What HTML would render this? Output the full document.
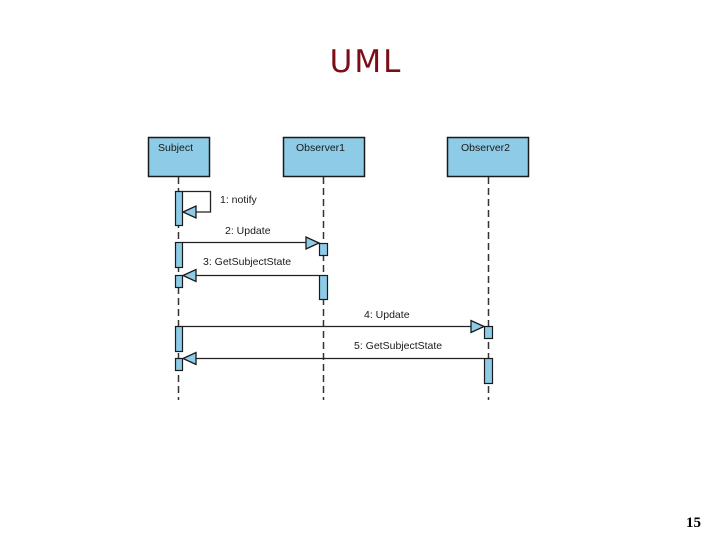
<!DOCTYPE html>
<html><head><meta charset="utf-8"><style>
html,body{margin:0;padding:0;background:#fff;}
body{width:720px;height:540px;position:relative;overflow:hidden;}
.t{position:absolute;left:0;width:732px;top:44px;text-align:center;font:31px "DejaVu Sans","Liberation Sans",sans-serif;color:#7a0d16;letter-spacing:2px;}
.n{position:absolute;left:686px;top:515px;font:bold 15px "Liberation Serif",serif;}
</style></head><body>
<div class="t">UML</div>
<svg width="720" height="540" style="position:absolute;left:0;top:0" font-family="Liberation Sans, sans-serif" font-size="10.5">
<g stroke="#1a1a1a" stroke-width="1.5" fill="#8ecbe6">
<rect x="148.5" y="137.5" width="61" height="39"/>
<rect x="283.5" y="137.5" width="81" height="39"/>
<rect x="447.5" y="137.5" width="81" height="39"/>
</g>
<g fill="#1a1a1a">
<text x="158" y="151">Subject</text>
<text x="296" y="151">Observer1</text>
<text x="461" y="151">Observer2</text>
</g>
<g stroke="#333" stroke-width="1.5" stroke-dasharray="7,4">
<line x1="178.5" y1="177" x2="178.5" y2="400"/>
<line x1="323.5" y1="177" x2="323.5" y2="400"/>
<line x1="488.5" y1="177" x2="488.5" y2="400"/>
</g>
<g stroke="#1a1a1a" stroke-width="1.2" fill="#8ecbe6">
<rect x="175.5" y="191.5" width="7" height="34"/>
<rect x="175.5" y="242.5" width="7" height="25"/>
<rect x="175.5" y="275.5" width="7" height="12"/>
<rect x="175.5" y="326.5" width="7" height="25"/>
<rect x="175.5" y="358.5" width="7" height="12"/>
<rect x="319.5" y="243.5" width="8" height="12"/>
<rect x="319.5" y="275.5" width="8" height="24"/>
<rect x="484.5" y="326.5" width="8" height="12"/>
<rect x="484.5" y="358.5" width="8" height="25"/>
</g>
<g stroke="#222" stroke-width="1.3" fill="none">
<polyline points="182,191.5 210.5,191.5 210.5,212 195,212"/>
<line x1="182" y1="242.5" x2="308" y2="242.5"/>
<line x1="195" y1="275.5" x2="319" y2="275.5"/>
<line x1="182" y1="326.5" x2="473" y2="326.5"/>
<line x1="195" y1="358.5" x2="484" y2="358.5"/>
</g>
<g stroke="#1a1a1a" stroke-width="1.3" fill="#8ecbe6">
<polygon points="183,212 196,206 196,218"/>
<polygon points="319,243 306,237 306,249"/>
<polygon points="183,275.5 196,269.5 196,281.5"/>
<polygon points="484,326.5 471,320.5 471,332.5"/>
<polygon points="183,358.5 196,352.5 196,364.5"/>
</g>
<g fill="#1a1a1a">
<text x="220" y="203">1: notify</text>
<text x="225" y="234">2: Update</text>
<text x="203" y="265">3: GetSubjectState</text>
<text x="364" y="318">4: Update</text>
<text x="354" y="349">5: GetSubjectState</text>
</g>
</svg>
<div class="n">15</div>
</body></html>
